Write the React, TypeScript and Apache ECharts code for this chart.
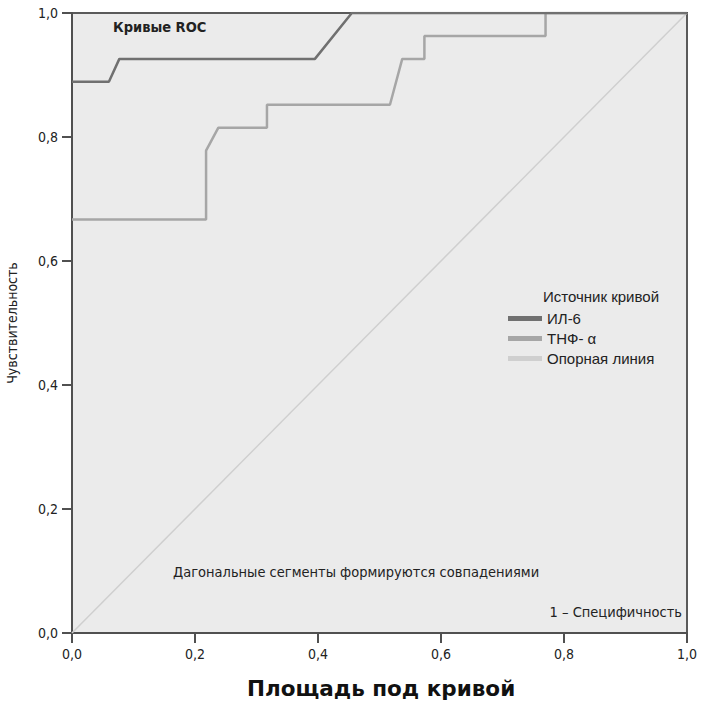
import React, { useEffect, useRef } from "react";
import * as echarts from "echarts";

const il6X = [0, 0.06, 0.077, 0.395, 0.455, 1];
const il6Y = [0.889, 0.889, 0.926, 0.926, 1, 1];

const tnfX = [0, 0.218, 0.218, 0.238, 0.317, 0.317, 0.517, 0.537, 0.573, 0.573, 0.77, 0.77, 1];
const tnfY = [0.667, 0.667, 0.778, 0.815, 0.815, 0.852, 0.852, 0.926, 0.926, 0.963, 0.963, 1, 1];

const refX = [0, 1];
const refY = [0, 1];

const seriesNames = ["ИЛ-6", "ТНФ- α", "Опорная линия"];
const seriesColors = ["#707070", "#a6a6a6", "#cfcfcf"];

const narrow = "'Liberation Sans Narrow', 'DejaVu Sans Condensed', 'Roboto Condensed', Arial, sans-serif";

const zip = (xs: number[], ys: number[]) => xs.map((x, i) => [x, ys[i]]);
const fmt = (v: number) => v.toFixed(1).replace(".", ",");

export default function App() {
  const ref = useRef<HTMLDivElement>(null);
  useEffect(() => {
    if (!ref.current) return;
    const chart = echarts.init(ref.current, undefined, { renderer: "svg" });
    chart.setOption({
      animation: false,
      backgroundColor: "#ffffff",
      grid: {
        left: 72,
        top: 13,
        width: 615,
        height: 620,
        outerBoundsMode: "none",
        containLabel: false,
        show: true,
        backgroundColor: "#ebebeb",
        borderColor: "#5a5a5a",
        borderWidth: 2,
      },
      xAxis: {
        type: "value",
        min: 0,
        max: 1,
        interval: 0.2,
        splitLine: { show: false },
        axisLine: { lineStyle: { color: "#505050", width: 2 } },
        axisTick: { show: true, length: 10, lineStyle: { color: "#505050", width: 2 } },
        axisLabel: { formatter: fmt, margin: 14, color: "#222", fontSize: 14, fontFamily: narrow },
      },
      yAxis: {
        type: "value",
        min: 0,
        max: 1,
        interval: 0.2,
        name: "Чувствительность",
        nameLocation: "middle",
        nameRotate: 90,
        nameGap: 53,
        nameTextStyle: { color: "#222", fontSize: 14, fontFamily: narrow },
        splitLine: { show: false },
        axisLine: { lineStyle: { color: "#505050", width: 2 } },
        axisTick: { show: true, length: 10, lineStyle: { color: "#505050", width: 2 } },
        axisLabel: { formatter: fmt, margin: 14, color: "#222", fontSize: 14, fontFamily: narrow },
      },
      legend: {
        orient: "vertical",
        left: 503,
        top: 306,
        itemWidth: 34,
        itemHeight: 5,
        itemGap: 5,
        icon: "rect",
        data: seriesNames,
        textStyle: { color: "#222", fontSize: 15, lineHeight: 14, fontFamily: "'Liberation Sans', Arial, sans-serif" },
        selectedMode: false,
      },
      series: [
        {
          name: seriesNames[2],
          type: "line",
          data: zip(refX, refY),
          showSymbol: false,
          lineStyle: { color: seriesColors[2], width: 1.5 },
          itemStyle: { color: seriesColors[2] },
          z: 2,
        },
        {
          name: seriesNames[1],
          type: "line",
          data: zip(tnfX, tnfY),
          showSymbol: false,
          lineStyle: { color: seriesColors[1], width: 2.5 },
          itemStyle: { color: seriesColors[1] },
          z: 3,
        },
        {
          name: seriesNames[0],
          type: "line",
          data: zip(il6X, il6Y),
          showSymbol: false,
          lineStyle: { color: seriesColors[0], width: 2.5 },
          itemStyle: { color: seriesColors[0] },
          z: 4,
        },
      ],
      graphic: [
        {
          type: "text",
          left: 113,
          top: 19,
          style: { text: "Кривые ROC", fill: "#222", fontSize: 14.5, fontWeight: "bold", fontFamily: narrow },
        },
        {
          type: "text",
          left: 543,
          top: 289,
          style: { text: "Источник кривой", fill: "#222", fontSize: 15, fontFamily: "'Liberation Sans', Arial, sans-serif" },
        },
        {
          type: "text",
          left: 173,
          top: 564,
          style: { text: "Дагональные сегменты формируются совпадениями", fill: "#222", fontSize: 14.5, fontFamily: narrow },
        },
        {
          type: "text",
          right: 26,
          top: 604,
          style: { text: "1 – Специфичность", fill: "#222", fontSize: 14.5, fontFamily: narrow },
        },
        {
          type: "text",
          left: 247,
          top: 677,
          style: { text: "Площадь под кривой", fill: "#111", fontSize: 21.5, fontWeight: "bold", fontFamily: "'DejaVu Sans', Arial, sans-serif" },
        },
      ],
    });
    return () => chart.dispose();
  }, []);
  return <div ref={ref} style={{ width: 708, height: 705, position: "absolute", left: 0, top: 0 }} />;
}
